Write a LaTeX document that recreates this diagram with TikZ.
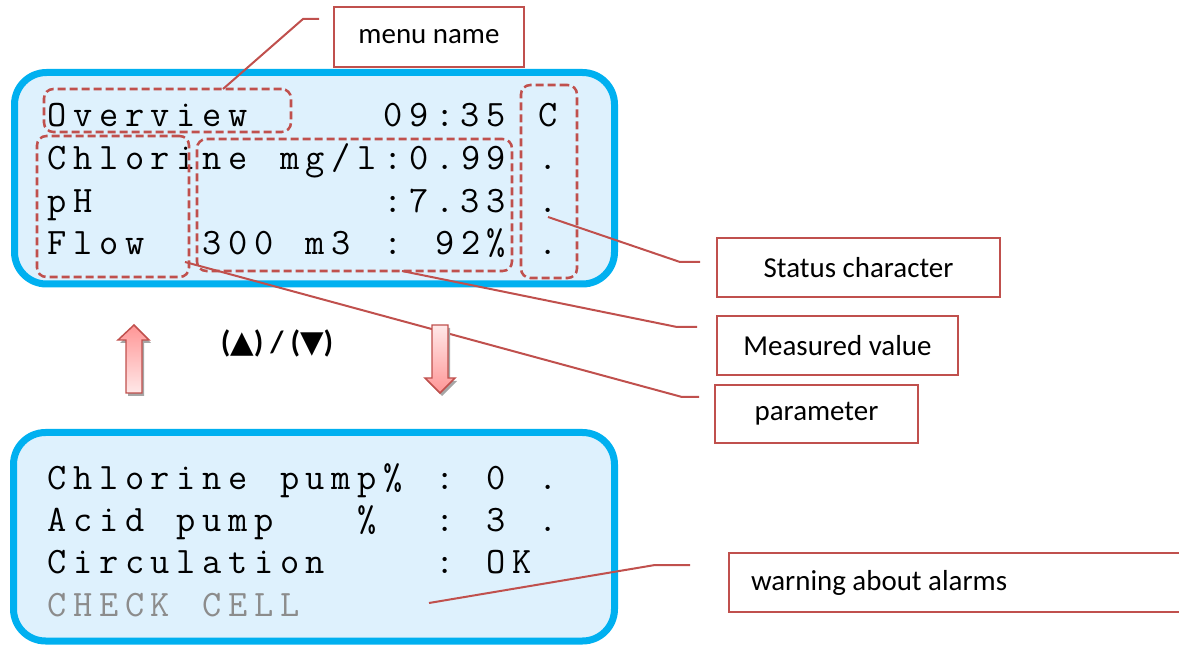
\documentclass[tikz,border=0pt]{standalone}
\usepackage{fontspec}
\newfontfamily\callfont{Carlito}
\newfontfamily\symfont{DejaVu Sans}
\definecolor{lcdblue}{RGB}{0,176,240}
\definecolor{lcdfill}{RGB}{222,241,253}
\definecolor{callred}{RGB}{192,80,77}
\definecolor{lcdgray}{RGB}{140,140,140}
\definecolor{arrowdark}{RGB}{255,150,150}
\definecolor{arrowlight}{RGB}{255,232,232}
\newlength\lcdcw \setlength\lcdcw{19.38pt}
\def\lcdloop#1{\ifx#1\relax\else\makebox[\lcdcw][c]{#1}\expandafter\lcdloop\fi}
\tikzset{
  lcd/.style={draw=lcdblue, line width=5.25pt, fill=lcdfill, rounded corners=24pt},
  lcdtext/.style={anchor=base west, inner sep=0pt, font=\fontsize{28}{28}\ttfamily},
  dashbox/.style={draw=callred, line width=1.9pt, dash pattern=on 6pt off 3pt, rounded corners=7pt, inner sep=0pt},
  callbox/.style={draw=callred, line width=1.5pt, fill=white, font=\fontsize{21.7}{26}\callfont, inner sep=0pt},
  leader/.style={draw=callred, line width=1.5pt},
  arrowshadow/.style={fill=black!35},
  arrowbody/.style={draw=callred, line width=1.1pt},
}
\begin{document}
\begin{tikzpicture}[x=0.75pt, y=-0.75pt]
\useasboundingbox (0,0) rectangle (1179,645);

% screens
\draw[lcd] (14.5,72.5) rectangle (614.5,284);
\draw[lcd] (13.5,432.5) rectangle (614.5,641);

% top screen text
\node[lcdtext] (t1) at (44,127) {\lcdloop Overview~~~~~09:35~C\relax};
\node[lcdtext] (t2) at (44,170) {\lcdloop Chlorine~mg/l:0.99~.\relax};
\node[lcdtext] (t3) at (44,212.5) {\lcdloop pH~~~~~~~~~~~:7.33~.\relax};
\node[lcdtext] (t4) at (44,255) {\lcdloop Flow~~300~m3~:~92\%~.\relax};

% bottom screen text
\node[lcdtext] (b1) at (44,489) {\lcdloop Chlorine~pump\%~:~0~.\relax};
\node[lcdtext] (b2) at (44,531) {\lcdloop Acid~pump~~~\%~~:~3~.\relax};
\node[lcdtext] (b3) at (44,573) {\lcdloop Circulation~~~~:~OK\relax};
\node[lcdtext, text=lcdgray] (b4) at (44,616) {\lcdloop CHECK~CELL\relax};

% dashed marker boxes
\node[dashbox, minimum width=185.25pt, minimum height=32.25pt] (ovbox) at (167.5,110.5) {};
\node[dashbox, minimum width=114pt, minimum height=105.75pt] (parbox) at (113,206.5) {};
\node[dashbox, minimum width=236.25pt, minimum height=99pt] (valbox) at (354.5,205) {};
\node[dashbox, minimum width=42pt, minimum height=144.75pt] (stbox) at (549,181.5) {};

% leader end points
\coordinate (mnA) at (223,89);   \coordinate (mnB) at (303,19);  \coordinate (mnC) at (319,19);
\coordinate (stA) at (548,217);  \coordinate (stB) at (680,262); \coordinate (stC) at (700,262);
\coordinate (mvA) at (402,271);  \coordinate (mvB) at (677,327); \coordinate (mvC) at (697,327);
\coordinate (paA) at (185,262);  \coordinate (paB) at (682,397); \coordinate (paC) at (699,397);
\coordinate (waA) at (429,603);  \coordinate (waB) at (655,565); \coordinate (waC) at (690,565);

\draw[leader] (mnA) -- (mnB) -- (mnC);
\draw[leader] (stA) -- (stB) -- (stC);
\draw[leader] (mvA) -- (mvB) -- (mvC);
\draw[leader] (paA) -- (paB) -- (paC);
\draw[leader] (waA) -- (waB) -- (waC);

% callout boxes
\node[callbox, minimum width=142.5pt, minimum height=45pt] (menu) at (429,37) {menu name};
\node[callbox, minimum width=212.25pt, minimum height=44.25pt] (status) at (858.5,267.5) {Status character};
\node[callbox, minimum width=180.75pt, minimum height=44.25pt] (meas) at (837.5,345.5) {Measured value};
\node[callbox, minimum width=152.25pt, minimum height=43.5pt] (param) at (816.5,414) {parameter};
\node[callbox, anchor=west, inner xsep=16.5pt, minimum height=44.25pt] (warn) at (728,582.5) {\makebox[313.5pt][l]{warning about alarms}};

% up arrow
\fill[arrowshadow] (136,328) -- (151,343) -- (144,343) -- (144,396) -- (128,396) -- (128,343) -- (120,343) -- cycle;
\shade[arrowbody, top color=arrowdark, bottom color=arrowlight] (134,325) -- (149,340) -- (142,340) -- (142,393) -- (126,393) -- (126,340) -- (118,340) -- cycle;
% down arrow
\fill[arrowshadow] (434,328) -- (450,328) -- (450,381) -- (457,381) -- (442,396) -- (427,381) -- (434,381) -- cycle;
\shade[arrowbody, top color=arrowlight, bottom color=arrowdark] (432,325) -- (448,325) -- (448,378) -- (455,378) -- (440,393) -- (425,378) -- (432,378) -- cycle;

% key label
\node[font=\fontsize{23}{23}\callfont\bfseries, inner sep=0pt] (keys) at (277,343) {({\symfont ▲}) / ({\symfont ▼})};
\end{tikzpicture}
\end{document}
